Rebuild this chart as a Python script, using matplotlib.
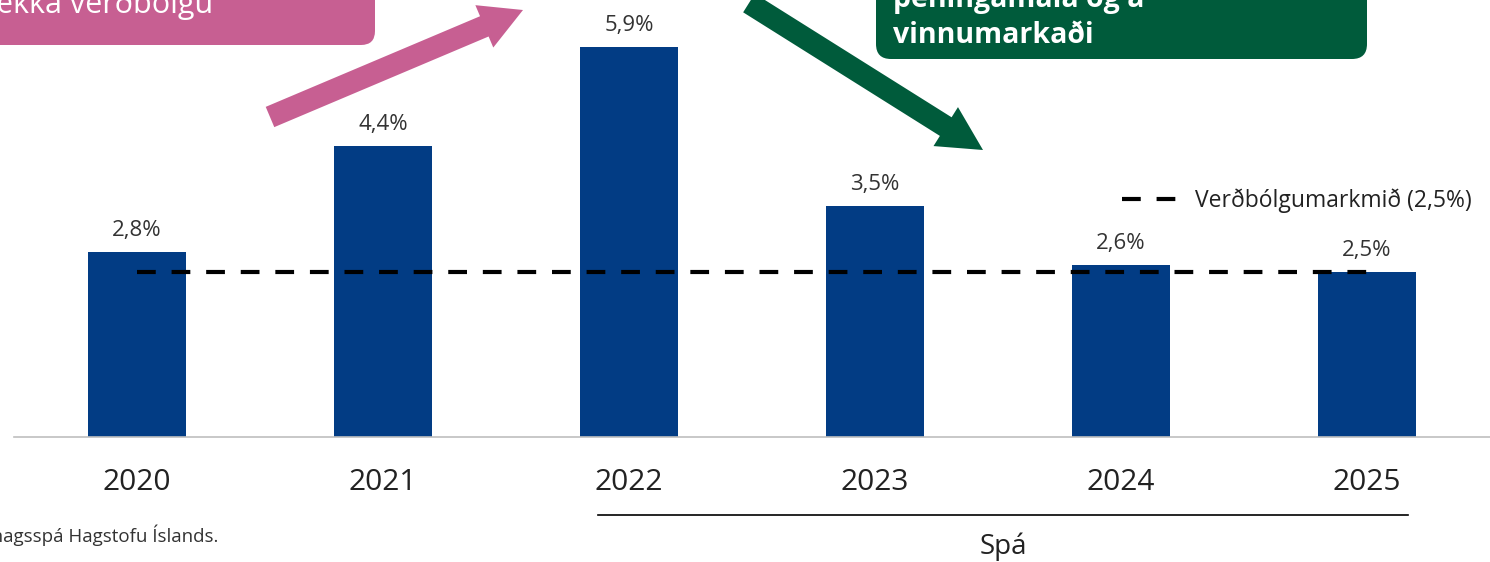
import matplotlib.pyplot as plt
from matplotlib.patches import FancyArrow, FancyBboxPatch
from matplotlib.lines import Line2D

plt.rcParams['font.family'] = ['Open Sans', 'DejaVu Sans']

years = ['2020', '2021', '2022', '2023', '2024', '2025']
inflation = [2.8, 4.4, 5.9, 3.5, 2.6, 2.5]
target = 2.5
labels = ['2,8%', '4,4%', '5,9%', '3,5%', '2,6%', '2,5%']

bar_color = '#023C84'
pink = '#C75F92'
green = '#005B3B'

fig = plt.figure(figsize=(14.9, 5.62), dpi=100)
ax = fig.add_axes([14/1490, 125/562, 1476/1490, 437/562])

x = list(range(len(years)))
ax.bar(x, inflation, width=0.4, color=bar_color, zorder=2)
for xi, v, lab in zip(x, inflation, labels):
    ax.annotate(lab, (xi, v), xytext=(0, 8), textcoords='offset points',
                ha='center', va='bottom', fontsize=16, color='#333333')

ax.plot([x[0], x[-1]], [target, target], color='black', lw=3,
        linestyle=(0, (4.5, 3.8)), zorder=3)

ax.set_xlim(-0.5, 5.5)
ax.set_ylim(0, 437/66.1)
for s in ['top', 'right', 'left']:
    ax.spines[s].set_visible(False)
ax.spines['bottom'].set_color('#BFBFBF')
ax.spines['bottom'].set_linewidth(1.2)
ax.set_yticks([])
ax.set_xticks(x)
ax.set_xticklabels(years, fontsize=21.5, color='#222222')
ax.tick_params(axis='x', length=0, pad=22)

handle = Line2D([], [], color='black', lw=3, linestyle=(0, (4.5, 3.8)))
ax.legend([handle], ['Verðbólgumarkmið (2,5%)'], loc='center right',
          bbox_to_anchor=(1472/1490, 1 - 201/562),
          bbox_transform=fig.transFigure, frameon=False, fontsize=16.5,
          handlelength=2.6, handletextpad=0.6, borderaxespad=0, borderpad=0,
          labelcolor='#222222')

# overlay in pixel coordinates for the annotations
ov = fig.add_axes([0, 0, 1, 1], zorder=5)
ov.set_xlim(0, 1490)
ov.set_ylim(562, 0)
ov.axis('off')

ov.add_patch(FancyBboxPatch((-40, -80), 415, 125,
                            boxstyle='round,pad=0,rounding_size=14',
                            fc=pink, ec='none'))
ov.text(213, 13, 'lækka verðbólgu', color='white', fontsize=22,
        ha='right', va='baseline')

ov.add_patch(FancyBboxPatch((876, -80), 491, 139,
                            boxstyle='round,pad=0,rounding_size=15',
                            fc=green, ec='none'))
ov.text(893, 7, 'peningamála og á', color='white', fontsize=20.5,
        fontweight='bold', ha='left', va='baseline')
ov.text(893, 43, 'vinnumarkaði', color='white', fontsize=20.5,
        fontweight='bold', ha='left', va='baseline')

ov.add_patch(FancyArrow(270, 117, 523 - 270, 10 - 117, width=22,
                        head_width=46, head_length=42,
                        length_includes_head=True, fc=pink, ec='none'))
ov.add_patch(FancyArrow(749, 3, 983 - 749, 150 - 3, width=22,
                        head_width=46, head_length=44,
                        length_includes_head=True, fc=green, ec='none'))

ov.plot([598, 1408], [515, 515], color='black', lw=1.2)
ov.text(1003, 547, 'Spá', fontsize=20, color='#222222',
        ha='center', va='center')
ov.text(218, 535, 'Heimild: Þjóðhagsspá Hagstofu Íslands.', fontsize=13.5,
        color='#333333', ha='right', va='center')

fig.savefig('out.png', dpi=100)
